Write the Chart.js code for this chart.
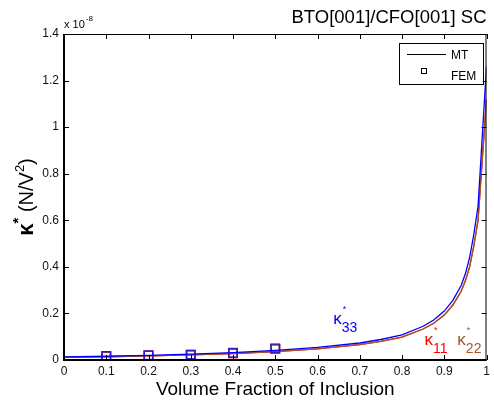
<!DOCTYPE html>
<html>
<head>
<meta charset="utf-8">
<script src="https://cdn.jsdelivr.net/npm/chart.js@4/dist/chart.umd.min.js"></script>
<style>
  html, body { margin: 0; padding: 0; background: #fff; }
  canvas { display: block; }
</style>
</head>
<body>
<canvas id="chart" width="494" height="405"></canvas>
<script>
// Effective dielectric constants (units of 1e-8 N/V^2) vs. inclusion volume fraction
const volumeFraction = [0, 0.1, 0.2, 0.3, 0.4, 0.5, 0.6, 0.7, 0.75, 0.8, 0.85, 0.875, 0.9, 0.92, 0.94, 0.95, 0.96, 0.97, 0.98, 1.0];
const kappa33MT = [0.013, 0.016, 0.020, 0.025, 0.032, 0.041, 0.054, 0.073, 0.088, 0.108, 0.145, 0.172, 0.210, 0.255, 0.320, 0.370, 0.440, 0.540, 0.660, 1.26];
const kappa11MT = [0.011, 0.014, 0.018, 0.022, 0.028, 0.036, 0.048, 0.066, 0.080, 0.098, 0.133, 0.158, 0.193, 0.235, 0.295, 0.340, 0.400, 0.490, 0.600, 1.12];
const kappa22MT = [0.011, 0.014, 0.018, 0.022, 0.028, 0.036, 0.048, 0.066, 0.080, 0.098, 0.133, 0.158, 0.193, 0.235, 0.295, 0.340, 0.400, 0.490, 0.600, 1.12];

const femFraction = [0.1, 0.2, 0.3, 0.4, 0.5];
const kappa33FEM = [0.017, 0.020, 0.024, 0.031, 0.050];
const kappa11FEM = [0.016, 0.019, 0.022, 0.029, 0.047];
const kappa22FEM = [0.016, 0.019, 0.022, 0.029, 0.047];

const xTickValues = [0, 0.1, 0.2, 0.3, 0.4, 0.5, 0.6, 0.7, 0.8, 0.9, 1];
const xTickLabels = ['0', '0.1', '0.2', '0.3', '0.4', '0.5', '0.6', '0.7', '0.8', '0.9', '1'];
const yTickValues = [0, 0.2, 0.4, 0.6, 0.8, 1.0, 1.2, 1.4];
const yTickLabels = ['0', '0.2', '0.4', '0.6', '0.8', '1', '1.2', '1.4'];

const BLUE = '#0000ff';
const RED = '#ff0000';
const BROWN = '#a3562a';
const FONT = '"Liberation Sans", Arial, sans-serif';

const toPoints = (xs, ys) => xs.map((x, i) => ({ x, y: ys[i] }));

// Component labels placed in data coordinates
const componentLabels = [
  { sub: '33', x: 0.637, y: 0.155, color: BLUE },
  { sub: '11', x: 0.853, y: 0.064, color: RED },
  { sub: '22', x: 0.931, y: 0.064, color: BROWN }
];

const lineSet = (label, data, color, order) => ({
  label, data, showLine: true, borderColor: color, backgroundColor: color,
  borderWidth: 1.3, pointRadius: 0, tension: 0, order
});
const femSet = (label, data, color, order) => ({
  label, data, showLine: false, borderColor: color, backgroundColor: 'rgba(0,0,0,0)',
  pointStyle: 'rect', pointRadius: 6, borderWidth: 1.5, order
});

const decorations = {
  id: 'decorations',
  afterDraw(chart) {
    const { ctx, chartArea: a, scales: { x, y } } = chart;
    ctx.save();

    // axes box
    ctx.strokeStyle = '#000';
    ctx.lineWidth = 1;
    ctx.beginPath();
    ctx.moveTo(a.left, a.top + 0.5); ctx.lineTo(a.right, a.top + 0.5);
    ctx.moveTo(a.right - 0.5, a.top); ctx.lineTo(a.right - 0.5, a.bottom);
    ctx.stroke();
    ctx.lineWidth = 2;
    ctx.beginPath();
    ctx.moveTo(a.left - 1, a.bottom); ctx.lineTo(a.right, a.bottom);
    ctx.moveTo(a.left, a.top); ctx.lineTo(a.left, a.bottom + 1);
    ctx.stroke();

    // inward tick marks
    ctx.lineWidth = 1;
    ctx.beginPath();
    xTickValues.forEach(v => {
      const px = Math.round(x.getPixelForValue(v)) + 0.5;
      ctx.moveTo(px, a.bottom); ctx.lineTo(px, a.bottom - 5);
      ctx.moveTo(px, a.top); ctx.lineTo(px, a.top + 5);
    });
    yTickValues.forEach(v => {
      const py = Math.round(y.getPixelForValue(v)) + 0.5;
      ctx.moveTo(a.left, py); ctx.lineTo(a.left + 5, py);
      ctx.moveTo(a.right, py); ctx.lineTo(a.right - 5, py);
    });
    ctx.stroke();

    // exponent marker
    ctx.fillStyle = '#000';
    ctx.textBaseline = 'alphabetic';
    ctx.textAlign = 'left';
    ctx.font = '11px ' + FONT;
    ctx.fillText('x 10', a.left, 28);
    const w10 = ctx.measureText('x 10').width;
    ctx.font = '8px ' + FONT;
    ctx.fillText('-8', a.left + w10 + 1, 21);

    // title
    ctx.font = '18.5px ' + FONT;
    ctx.textAlign = 'right';
    ctx.fillText('BTO[001]/CFO[001] SC', a.right, 23);

    // y-axis title
    ctx.save();
    ctx.translate(33, 197);
    ctx.rotate(-Math.PI / 2);
    ctx.textAlign = 'left';
    const parts = [
      { t: '\u03BA', f: 'bold 22px ' + FONT, dy: 0 },
      { t: '*', f: 'bold 15px ' + FONT, dy: -10 },
      { t: ' (N/V', f: '20px ' + FONT, dy: 0 },
      { t: '2', f: '13px ' + FONT, dy: -9 },
      { t: ')', f: '20px ' + FONT, dy: 0 }
    ];
    let total = 0;
    parts.forEach(p => { ctx.font = p.f; p.w = ctx.measureText(p.t).width; total += p.w; });
    let cx = -total / 2;
    parts.forEach(p => { ctx.font = p.f; ctx.fillText(p.t, cx, p.dy); cx += p.w; });
    ctx.restore();

    // legend
    const lx = 399, ly = 43, lw = 84, lh = 41;
    ctx.fillStyle = '#fff';
    ctx.fillRect(lx, ly, lw, lh);
    ctx.strokeStyle = '#000';
    ctx.lineWidth = 1;
    ctx.strokeRect(lx + 0.5, ly + 0.5, lw, lh);
    ctx.beginPath();
    ctx.moveTo(407, 54.5); ctx.lineTo(446, 54.5);
    ctx.stroke();
    ctx.strokeRect(421.5, 68.5, 5, 5);
    ctx.fillStyle = '#000';
    ctx.textAlign = 'left';
    ctx.font = '12px ' + FONT;
    ctx.fillText('MT', 451, 59);
    ctx.fillText('FEM', 451, 80);

    // component labels
    componentLabels.forEach(c => {
      const px = x.getPixelForValue(c.x);
      const py = y.getPixelForValue(c.y);
      ctx.fillStyle = c.color;
      ctx.font = '17px ' + FONT;
      ctx.fillText('\u03BA', px, py);
      const kw = ctx.measureText('\u03BA').width;
      ctx.font = '14px ' + FONT;
      ctx.fillText(c.sub, px + kw, py + 8);
      ctx.font = '9px ' + FONT;
      ctx.fillText('*', px + kw + 1, py - 12);
    });

    ctx.restore();
  }
};

new Chart(document.getElementById('chart'), {
  type: 'scatter',
  data: {
    datasets: [
      lineSet('MT \u03BA33', toPoints(volumeFraction, kappa33MT), BLUE, 0),
      lineSet('MT \u03BA22', toPoints(volumeFraction, kappa22MT), BROWN, 1),
      lineSet('MT \u03BA11', toPoints(volumeFraction, kappa11MT), RED, 2),
      femSet('FEM \u03BA33', toPoints(femFraction, kappa33FEM), 'rgba(0,0,255,0.7)', 0),
      femSet('FEM \u03BA22', toPoints(femFraction, kappa22FEM), BROWN, 1),
      femSet('FEM \u03BA11', toPoints(femFraction, kappa11FEM), RED, 2)
    ]
  },
  options: {
    responsive: false,
    animation: false,
    devicePixelRatio: 1,
    layout: { padding: { top: 34, right: 4, left: 0, bottom: 0 } },
    plugins: { legend: { display: false }, tooltip: { enabled: false } },
    scales: {
      x: {
        type: 'linear', min: 0, max: 1,
        grid: { display: false, drawTicks: false },
        border: { display: false },
        afterBuildTicks: s => { s.ticks = xTickValues.map(v => ({ value: v })); },
        afterFit: s => { s.height = 45; },
        ticks: {
          padding: 4, color: '#111', maxRotation: 0, autoSkip: false,
          font: { family: FONT, size: 12 },
          callback: (v, i) => xTickLabels[i]
        },
        title: {
          display: true, text: 'Volume Fraction of Inclusion', color: '#000',
          font: { family: FONT, size: 19 }, padding: { top: 0, bottom: 4 }
        }
      },
      y: {
        type: 'linear', min: 0, max: 1.4,
        grid: { display: false, drawTicks: false },
        border: { display: false },
        afterBuildTicks: s => { s.ticks = yTickValues.map(v => ({ value: v })); },
        afterFit: s => { s.width = 64; },
        ticks: {
          padding: 5, color: '#111', autoSkip: false,
          font: { family: FONT, size: 12 },
          callback: (v, i) => yTickLabels[i]
        }
      }
    }
  },
  plugins: [decorations]
});
</script>
</body>
</html>
